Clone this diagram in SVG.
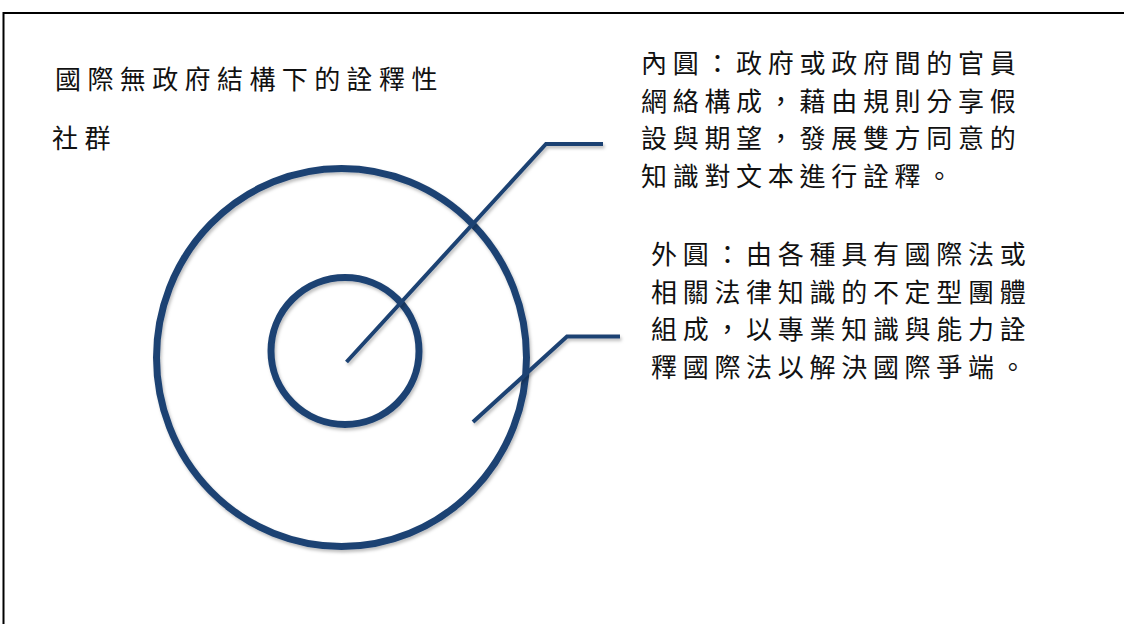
<svg xmlns="http://www.w3.org/2000/svg" width="1124" height="624" viewBox="0 0 1124 624">
  <style>
    .t { font-family: "Noto Sans CJK TC", "Noto Sans CJK SC", sans-serif; font-size: 26px; letter-spacing: 5.7px; fill: #111; }
    .ti { letter-spacing: 6.4px; }
    .ring { fill: none; stroke: #1f4373; stroke-width: 7; filter: url(#sh); }
    .lead { fill: none; stroke: #1f4373; stroke-width: 4; stroke-linejoin: miter; filter: url(#sh); }
  </style>
  <defs>
    <filter id="sh" x="-10%" y="-10%" width="120%" height="120%">
      <feDropShadow dx="1.5" dy="2.5" stdDeviation="1.5" flood-color="#000" flood-opacity="0.25"/>
    </filter>
  </defs>
  <rect width="1124" height="624" fill="#fff"/>
  <g id="frame">
    <path d="M3.5 624 V13 H1124" fill="none" stroke="#000" stroke-width="2"/>
  </g>
  <g id="title">
    <text class="t ti" x="55" y="89">國際無政府結構下的詮釋性</text>
    <text class="t ti" x="52" y="148">社群</text>
  </g>
  <g id="outer-circle">
    <ellipse class="ring" cx="341.5" cy="357.5" rx="185" ry="189"/>
  </g>
  <g id="inner-circle">
    <ellipse class="ring" cx="345" cy="351" rx="74" ry="73.5"/>
  </g>
  <g id="connectors">
    <polyline class="lead" points="346.5,362 546,144 603,144"/>
    <polyline class="lead" points="473,422 567,336.5 620,336.5"/>
  </g>
  <g id="inner-label">
    <text class="t" x="641" y="73">內圓：政府或政府間的官員</text>
    <text class="t" x="641" y="110.5">網絡構成，藉由規則分享假</text>
    <text class="t" x="641" y="148">設與期望，發展雙方同意的</text>
    <text class="t" x="641" y="185.5">知識對文本進行詮釋。</text>
  </g>
  <g id="outer-label">
    <text class="t" x="651" y="264">外圓：由各種具有國際法或</text>
    <text class="t" x="651" y="301.5">相關法律知識的不定型團體</text>
    <text class="t" x="651" y="339">組成，以專業知識與能力詮</text>
    <text class="t" x="651" y="376.5">釋國際法以解決國際爭端。</text>
  </g>
</svg>
